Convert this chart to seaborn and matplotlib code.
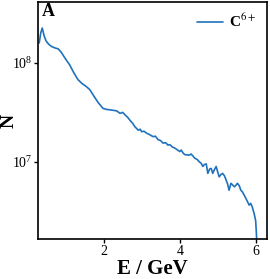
import numpy as np
import pandas as pd
import matplotlib
matplotlib.use('Agg')
import matplotlib.pyplot as plt
import matplotlib.ticker as mticker
import seaborn as sns

sns.set_style('ticks')
plt.rcParams['font.family'] = ['Liberation Serif', 'DejaVu Serif']
plt.rcParams['mathtext.fontset'] = 'stix'
plt.rcParams['text.color'] = 'black'
plt.rcParams['axes.labelcolor'] = 'black'

# spectrum: energy (GeV) and log10 of counts
energy = [0.29, 0.33, 0.37, 0.42, 0.47, 0.51, 0.56, 0.61, 0.70, 0.79, 0.84, 0.88,
          0.98, 1.09, 1.20, 1.31, 1.42, 1.53, 1.62, 1.72, 1.84, 1.97, 2.06, 2.16,
          2.25, 2.33, 2.42, 2.49, 2.55, 2.62, 2.68, 2.75, 2.81, 2.90, 2.95, 2.99,
          3.05, 3.12, 3.20, 3.29, 3.35, 3.42, 3.49, 3.55, 3.62, 3.68, 3.73, 3.80,
          3.86, 3.92, 3.99, 4.03, 4.08, 4.12, 4.20, 4.25, 4.29, 4.34, 4.38, 4.45,
          4.51, 4.55, 4.60, 4.64, 4.69, 4.73, 4.78, 4.82, 4.86, 4.90, 4.95, 4.99,
          5.03, 5.08, 5.12, 5.17, 5.21, 5.25, 5.29, 5.34, 5.38, 5.43, 5.47, 5.51,
          5.56, 5.60, 5.64, 5.69, 5.75, 5.82, 5.86, 5.90, 5.95, 5.99, 6.01, 6.03]
log_n = [8.20, 8.30, 8.35, 8.27, 8.22, 8.20, 8.18, 8.165, 8.15, 8.14, 8.12, 8.10,
         8.04, 7.98, 7.90, 7.83, 7.79, 7.76, 7.73, 7.67, 7.60, 7.54, 7.53, 7.525,
         7.52, 7.515, 7.49, 7.50, 7.475, 7.45, 7.42, 7.39, 7.355, 7.32, 7.33, 7.305,
         7.31, 7.29, 7.275, 7.255, 7.26, 7.225, 7.215, 7.19, 7.195, 7.17, 7.175, 7.15,
         7.14, 7.125, 7.105, 7.12, 7.09, 7.075, 7.07, 7.07, 7.08, 7.06, 7.04, 7.025,
         7.00, 6.99, 6.955, 6.975, 6.98, 6.885, 6.93, 6.935, 6.885, 6.92, 6.955, 6.90,
         6.85, 6.875, 6.885, 6.86, 6.82, 6.78, 6.715, 6.785, 6.77, 6.75, 6.765, 6.785,
         6.76, 6.715, 6.70, 6.665, 6.62, 6.565, 6.583, 6.548, 6.48, 6.41, 6.28, 6.10]

df = pd.DataFrame({'E': energy, 'N': np.power(10.0, log_n)})

fig = plt.figure(figsize=(2.70, 2.79), dpi=100)
ax = fig.add_axes([0.141, 0.143, 0.848, 0.850])

sns.lineplot(data=df, x='E', y='N', ax=ax, color='#1f72bd', linewidth=1.2,
             label='C$^{6+}$', sort=False)

ax.set_yscale('log')
ax.set_xlim(0.26, 6.29)
ax.set_ylim(1.67e6, 4.1e8)
ax.set_xticks([2, 4, 6])
ax.set_yticks([1e7, 1e8])
ax.yaxis.set_minor_locator(mticker.NullLocator())
ax.tick_params(axis='both', which='major', labelsize=10, length=3, width=1,
               direction='out', pad=1, colors='black')
for s in ax.spines.values():
    s.set_linewidth(1.2)
    s.set_color('black')
    s.set_visible(True)

ax.set_xlabel('E / GeV', fontsize=15, fontweight='bold', labelpad=1)
ax.set_ylabel('N', fontsize=14, fontweight='bold')
ax.yaxis.set_label_coords(-0.09, 0.5)
ax.text(0.015, 0.995, 'A', transform=ax.transAxes, fontsize=13,
        fontweight='bold', va='top', ha='left')

leg = ax.legend(loc='upper right', frameon=False, fontsize=11,
                handlelength=1.7, borderaxespad=0.3, handletextpad=0.4)
for t in leg.get_texts():
    t.set_fontweight('bold')

fig.savefig('out.png', dpi=100)
